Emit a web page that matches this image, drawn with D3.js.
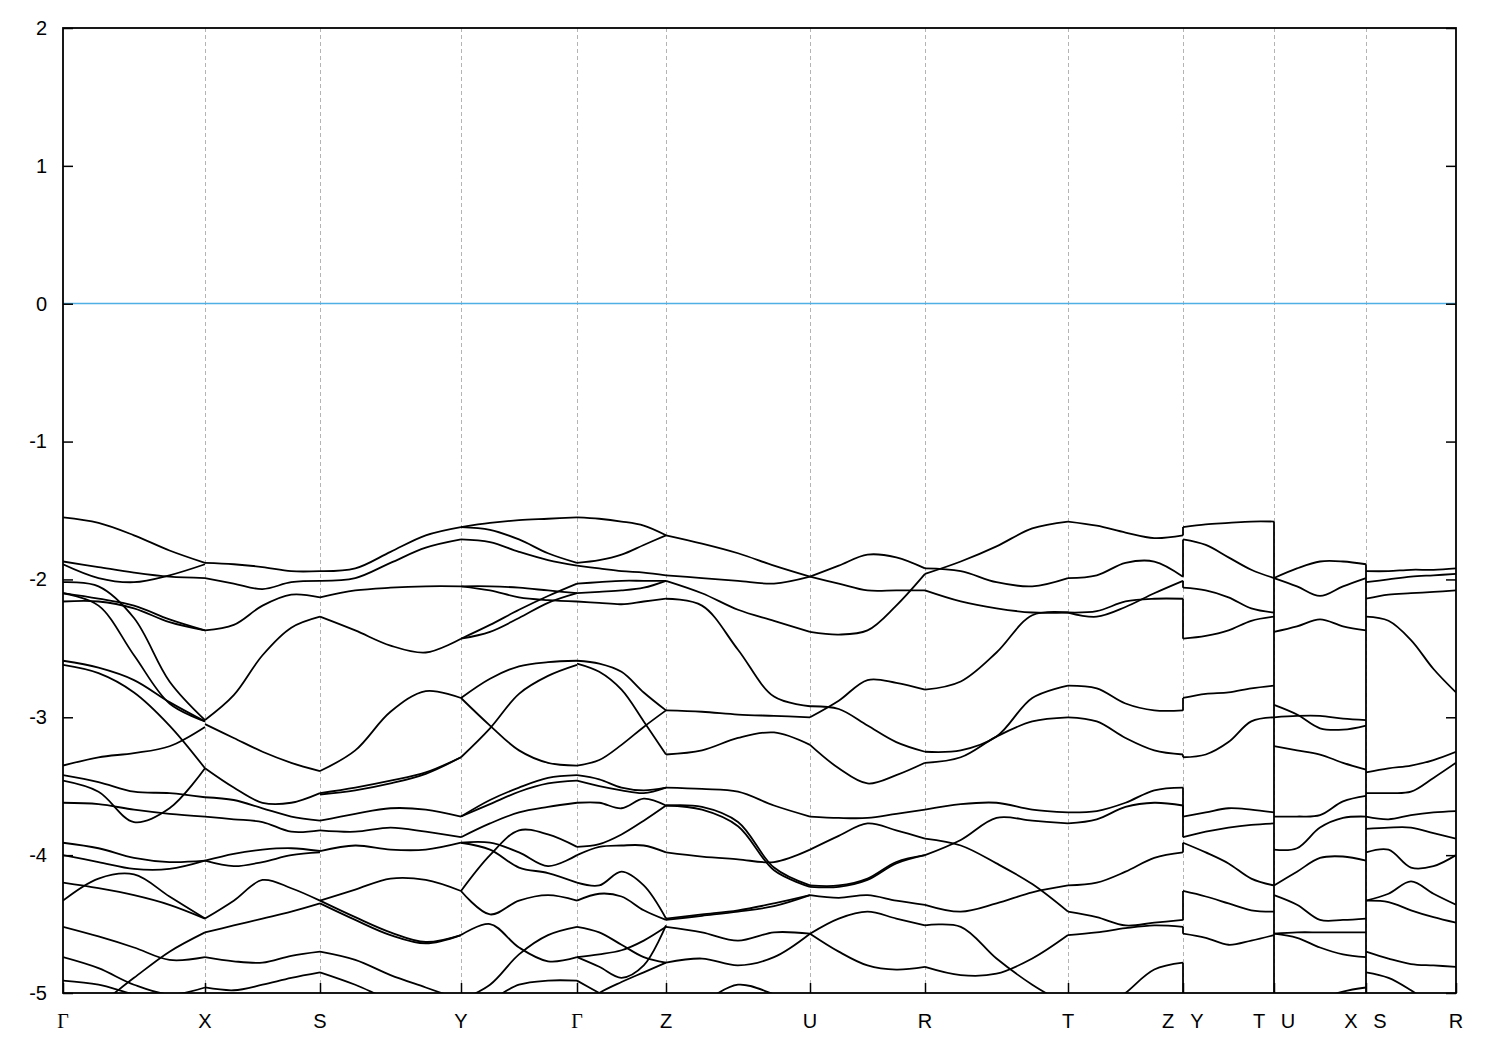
<!DOCTYPE html>
<html><head><meta charset="utf-8">
<script src="https://cdn.jsdelivr.net/npm/d3@7"></script>
<style>body{margin:0;background:#fff}svg{display:block}</style>
</head><body><svg id="c" width="1500" height="1050"></svg>
<script>
// k-path (high-symmetry points), path distance units
const kTicks  = [0, 1.42, 2.57, 3.98, 5.14, 6.03, 7.47, 8.62, 10.05, 11.20, 12.11, 13.03, 13.93];
const kLabels = ["Γ","X","S","Y","Γ","Z","U","R","T","Z|Y","T|U","X|S","R"];
const yTicks  = [2, 1, 0, -1, -2, -3, -4, -5];
const fermi   = 0;

// Band energies (eV), equally spaced along each path segment
const segGX = [
 [-1.55,-1.59,-1.68,-1.79,-1.88],[-1.87,-1.91,-1.95,-1.98,-1.99],[-1.89,-1.99,-2.02,-1.97,-1.89],
 [-2.02,-2.05,-2.28,-2.74,-3.02],[-2.10,-2.19,-2.55,-2.90,-3.03],[-2.10,-2.14,-2.19,-2.29,-2.37],
 [-2.16,-2.16,-2.21,-2.31,-2.37],[-2.59,-2.64,-2.73,-2.89,-3.03],[-2.62,-2.68,-2.82,-3.06,-3.37],
 [-3.35,-3.29,-3.26,-3.21,-3.07],[-3.46,-3.54,-3.76,-3.66,-3.37],[-3.42,-3.47,-3.54,-3.55,-3.58],
 [-3.62,-3.63,-3.67,-3.70,-3.72],[-3.91,-3.95,-4.02,-4.05,-4.04],[-4.00,-4.05,-4.10,-4.10,-4.04],
 [-4.20,-4.24,-4.29,-4.36,-4.46],[-4.33,-4.17,-4.14,-4.30,-4.46],[-4.52,-4.59,-4.67,-4.76,-4.74],
 [-4.74,-4.82,-4.94,-5.01,-4.96],[-5.27,-5.09,-4.89,-4.70,-4.56],[-4.91,-4.94,-5.01,-5.05,-5.01]
];
const segXS = [
 [-1.88,-1.89,-1.91,-1.94,-1.94],[-1.99,-2.03,-2.07,-2.02,-2.01],[-2.37,-2.33,-2.19,-2.11,-2.13],
 [-3.02,-2.84,-2.55,-2.35,-2.27],[-3.05,-3.15,-3.25,-3.33,-3.39],[-3.37,-3.51,-3.62,-3.62,-3.55],
 [-3.58,-3.60,-3.66,-3.72,-3.75],[-3.72,-3.74,-3.76,-3.83,-3.82],[-4.04,-3.99,-3.96,-3.95,-3.97],
 [-4.04,-4.08,-4.05,-4.00,-3.98],[-4.46,-4.33,-4.18,-4.24,-4.33],[-4.56,-4.51,-4.46,-4.41,-4.35],
 [-4.74,-4.77,-4.78,-4.73,-4.70],[-4.96,-4.98,-4.94,-4.89,-4.85]
];
const segSY = [
 [-1.94,-1.92,-1.80,-1.68,-1.62],[-2.01,-1.99,-1.88,-1.77,-1.71],[-2.13,-2.08,-2.06,-2.05,-2.05],
 [-2.27,-2.37,-2.48,-2.53,-2.43],[-3.39,-3.24,-2.96,-2.81,-2.86],[-3.55,-3.51,-3.46,-3.40,-3.29],
 [-3.56,-3.53,-3.48,-3.41,-3.29],[-3.75,-3.70,-3.66,-3.67,-3.72],[-3.82,-3.83,-3.80,-3.83,-3.87],
 [-3.97,-3.93,-3.96,-3.96,-3.91],[-4.33,-4.25,-4.17,-4.18,-4.26],[-4.33,-4.45,-4.56,-4.63,-4.58],
 [-4.35,-4.47,-4.58,-4.64,-4.58],[-4.70,-4.76,-4.87,-4.96,-5.05],[-4.85,-4.94,-5.05,-5.12,-5.16]
];
const segYG = [
 [-1.62,-1.59,-1.57,-1.56,-1.55],[-1.62,-1.64,-1.71,-1.81,-1.88],[-1.71,-1.73,-1.80,-1.86,-1.90],
 [-2.05,-2.05,-2.06,-2.08,-2.10],[-2.05,-2.08,-2.13,-2.15,-2.16],[-2.43,-2.33,-2.22,-2.12,-2.03],
 [-2.43,-2.38,-2.28,-2.17,-2.10],[-2.86,-2.72,-2.63,-2.60,-2.59],[-3.29,-3.08,-2.83,-2.70,-2.62],
 [-2.86,-3.06,-3.24,-3.33,-3.35],[-3.72,-3.60,-3.51,-3.44,-3.42],[-3.87,-3.77,-3.69,-3.65,-3.62],
 [-3.91,-3.91,-3.98,-4.08,-4.00],[-3.91,-3.96,-4.09,-4.13,-4.20],[-4.26,-4.43,-4.33,-4.29,-4.33],
 [-4.26,-4.00,-3.82,-3.85,-3.94],[-4.58,-4.50,-4.67,-4.77,-4.74],[-5.05,-4.94,-4.72,-4.58,-4.52],
 [-5.12,-5.05,-4.94,-4.91,-4.91],[-3.72,-3.63,-3.54,-3.48,-3.46]
];
const segGZ = [
 [-1.55,-1.56,-1.58,-1.61,-1.68],[-1.88,-1.86,-1.82,-1.75,-1.68],[-1.90,-1.92,-1.94,-1.95,-1.97],
 [-2.03,-2.02,-2.01,-2.01,-2.01],[-2.10,-2.09,-2.08,-2.06,-2.01],[-2.16,-2.17,-2.18,-2.16,-2.14],
 [-2.59,-2.61,-2.67,-2.82,-2.95],[-2.61,-2.67,-2.80,-3.03,-3.27],[-3.35,-3.31,-3.20,-3.07,-2.95],
 [-3.42,-3.45,-3.51,-3.53,-3.51],[-3.46,-3.50,-3.53,-3.55,-3.51],[-3.62,-3.62,-3.66,-3.59,-3.64],
 [-3.94,-3.92,-3.85,-3.75,-3.64],[-4.00,-3.94,-3.93,-3.93,-3.98],[-4.20,-4.22,-4.12,-4.22,-4.46],
 [-4.33,-4.28,-4.30,-4.40,-4.47],[-4.52,-4.56,-4.65,-4.74,-4.78],[-4.74,-4.81,-4.89,-4.80,-4.51],
 [-4.74,-4.72,-4.69,-4.62,-4.52],[-5.12,-5.00,-4.92,-4.85,-4.78],[-4.91,-5.00,-5.09,-5.12,-5.12]
];
const segZU = [
 [-1.68,-1.74,-1.81,-1.90,-1.98],[-1.97,-1.99,-2.01,-2.03,-1.98],[-2.01,-2.10,-2.22,-2.30,-2.38],
 [-2.14,-2.19,-2.51,-2.85,-2.92],[-2.95,-2.96,-2.98,-2.99,-3.00],[-3.27,-3.24,-3.15,-3.11,-3.20],
 [-3.51,-3.52,-3.54,-3.64,-3.72],[-3.64,-3.65,-3.76,-4.09,-4.22],[-3.64,-3.67,-3.79,-4.11,-4.23],
 [-3.98,-4.01,-4.03,-4.05,-3.96],[-4.46,-4.43,-4.40,-4.35,-4.29],[-4.47,-4.44,-4.41,-4.37,-4.29],
 [-4.52,-4.56,-4.62,-4.56,-4.57],[-4.78,-4.75,-4.80,-4.74,-4.57],[-5.20,-5.07,-4.94,-5.01,-5.12]
];
const segUR = [
 [-1.98,-1.90,-1.82,-1.84,-1.92],[-1.98,-2.03,-2.08,-2.08,-2.08],[-2.38,-2.40,-2.37,-2.19,-1.96],
 [-2.92,-2.94,-3.06,-3.18,-3.25],[-3.00,-2.88,-2.73,-2.75,-2.80],[-3.20,-3.37,-3.48,-3.42,-3.33],
 [-3.72,-3.73,-3.73,-3.70,-3.67],[-3.96,-3.86,-3.77,-3.82,-3.88],[-4.22,-4.22,-4.17,-4.05,-4.00],
 [-4.23,-4.23,-4.18,-4.06,-4.00],[-4.29,-4.31,-4.29,-4.33,-4.36],[-4.57,-4.46,-4.41,-4.46,-4.51],
 [-4.57,-4.70,-4.80,-4.83,-4.81]
];
const segRT = [
 [-1.92,-1.94,-2.02,-2.05,-1.99],[-1.96,-1.87,-1.76,-1.63,-1.58],[-2.08,-2.16,-2.21,-2.24,-2.24],
 [-2.80,-2.74,-2.53,-2.26,-2.24],[-3.25,-3.24,-3.14,-2.86,-2.77],[-3.33,-3.29,-3.14,-3.03,-3.00],
 [-3.67,-3.63,-3.62,-3.67,-3.69],[-3.88,-3.93,-4.06,-4.21,-4.41],[-4.00,-3.89,-3.73,-3.75,-3.77],
 [-4.36,-4.41,-4.35,-4.27,-4.22],[-4.51,-4.52,-4.75,-4.94,-5.09],[-4.81,-4.87,-4.86,-4.75,-4.58]
];
const segTZ = [
 [-1.58,-1.61,-1.66,-1.70,-1.68],[-1.99,-1.97,-1.88,-1.87,-1.98],[-2.24,-2.27,-2.20,-2.10,-2.01],
 [-2.24,-2.23,-2.16,-2.14,-2.14],[-2.77,-2.79,-2.90,-2.95,-2.95],[-3.00,-3.03,-3.15,-3.24,-3.27],
 [-3.69,-3.68,-3.62,-3.53,-3.51],[-3.77,-3.74,-3.65,-3.62,-3.64],[-4.22,-4.20,-4.12,-4.02,-3.98],
 [-4.41,-4.45,-4.51,-4.49,-4.47],[-4.58,-4.56,-4.53,-4.51,-4.52],[-5.34,-5.16,-5.00,-4.83,-4.78]
];
const segYT = [
 [-1.62,-1.60,-1.59,-1.58,-1.58],[-1.71,-1.75,-1.84,-1.93,-1.99],[-2.06,-2.08,-2.13,-2.21,-2.24],
 [-2.43,-2.41,-2.37,-2.30,-2.27],[-2.86,-2.83,-2.82,-2.79,-2.77],[-3.29,-3.27,-3.18,-3.03,-3.00],
 [-3.72,-3.69,-3.66,-3.67,-3.69],[-3.87,-3.83,-3.80,-3.78,-3.77],[-3.91,-3.98,-4.06,-4.17,-4.22],
 [-4.26,-4.30,-4.35,-4.40,-4.41],[-4.57,-4.60,-4.65,-4.62,-4.58]
];
const segUX = [
 [-1.99,-1.92,-1.87,-1.87,-1.89],[-1.99,-2.05,-2.12,-2.05,-1.99],[-2.38,-2.34,-2.29,-2.34,-2.37],
 [-2.91,-2.98,-3.08,-3.09,-3.06],[-3.00,-2.99,-2.99,-3.01,-3.02],[-3.21,-3.24,-3.27,-3.33,-3.38],
 [-3.72,-3.72,-3.71,-3.61,-3.57],[-3.96,-3.95,-3.80,-3.73,-3.72],[-4.22,-4.12,-4.02,-4.01,-4.04],
 [-4.29,-4.36,-4.47,-4.47,-4.46],[-4.57,-4.56,-4.56,-4.56,-4.56],[-4.57,-4.60,-4.67,-4.72,-4.74],
 [-5.27,-5.16,-5.05,-4.99,-4.96]
];
const segSR = [
 [-1.94,-1.94,-1.93,-1.93,-1.92],[-2.02,-2.00,-1.98,-1.97,-1.96],[-2.14,-2.11,-2.10,-2.09,-2.08],
 [-2.27,-2.30,-2.44,-2.65,-2.82],[-3.40,-3.37,-3.35,-3.31,-3.25],[-3.55,-3.55,-3.54,-3.44,-3.33],
 [-3.72,-3.74,-3.71,-3.69,-3.68],[-3.81,-3.80,-3.80,-3.84,-3.88],[-3.98,-3.96,-4.09,-4.08,-4.00],
 [-4.33,-4.28,-4.19,-4.28,-4.36],[-4.33,-4.34,-4.40,-4.45,-4.49],[-4.70,-4.75,-4.79,-4.80,-4.81],
 [-4.85,-4.89,-4.98,-5.09,-5.16],[-5.34,-5.27,-5.20,-5.09,-5.02]
];
const segments = [segGX, segXS, segSY, segYG, segGZ, segZU, segUR, segRT, segTZ, segYT, segUX, segSR];

// Vertical jumps at path discontinuities (tick index -> [E_before, E_after])
const jumpsZY = [[-1.68,-1.62],[-1.98,-1.71],[-2.01,-2.06],[-2.14,-2.43],[-2.95,-2.86],[-3.27,-3.29],
 [-3.51,-3.72],[-3.64,-3.87],[-3.98,-3.91],[-4.47,-4.26],[-4.52,-4.57],[-4.78,-5.10]];
const jumpsTU = [[-1.58,-5.10]];
const jumpsXS = [[-1.89,-5.10]];
const jumps = [{tick: 9, pairs: jumpsZY}, {tick: 10, pairs: jumpsTU}, {tick: 11, pairs: jumpsXS}];

const M = {left: 63, right: 1456, top: 28, bottom: 993};
const svg = d3.select("#c");
const x = d3.scaleLinear().domain([kTicks[0], kTicks[kTicks.length-1]]).range([M.left, M.right]);
const y = d3.scaleLinear().domain([-5, 2]).range([M.bottom, M.top]);

svg.append("defs").append("clipPath").attr("id","clip")
  .append("rect").attr("x", M.left).attr("y", M.top)
  .attr("width", M.right - M.left).attr("height", M.bottom - M.top);

// grid lines at high-symmetry points
svg.append("g").selectAll("line").data(kTicks.slice(1, -1)).join("line")
  .attr("x1", d => Math.round(x(d)) + 0.5).attr("x2", d => Math.round(x(d)) + 0.5)
  .attr("y1", M.top).attr("y2", M.bottom)
  .attr("stroke", "#b4b4b4").attr("stroke-width", 1).attr("stroke-dasharray", "4,3");

// Fermi level
svg.append("line").attr("x1", M.left).attr("x2", M.right)
  .attr("y1", Math.round(y(fermi)) - 0.5).attr("y2", Math.round(y(fermi)) - 0.5)
  .attr("stroke", "#4fb0e6").attr("stroke-width", 1.3);

// bands
const gB = svg.append("g").attr("clip-path", "url(#clip)")
  .attr("fill", "none").attr("stroke", "#000").attr("stroke-width", 1.8)
  .attr("stroke-linejoin", "round");
const line = d3.line().x(d => x(d[0])).y(d => y(d[1])).curve(d3.curveCatmullRom.alpha(0.5));
segments.forEach((seg, i) => {
  const k0 = kTicks[i], k1 = kTicks[i+1];
  seg.forEach(band => {
    const n = band.length;
    const pts = band.map((e, j) => [k0 + (k1 - k0) * j / (n - 1), e]);
    gB.append("path").attr("d", line(pts));
  });
});
jumps.forEach(jp => {
  jp.pairs.forEach(p => {
    gB.append("line").attr("x1", x(kTicks[jp.tick])).attr("x2", x(kTicks[jp.tick]))
      .attr("y1", y(p[0])).attr("y2", y(p[1]));
  });
});

// axes
const fontF = "'Liberation Sans', Arial, Helvetica, sans-serif";
const gL = svg.append("g").attr("transform", `translate(${M.left},0)`)
  .call(d3.axisLeft(y).tickValues(yTicks).tickSize(-10).tickPadding(16).tickFormat(d => String(d)));
const gR = svg.append("g").attr("transform", `translate(${M.right},0)`)
  .call(d3.axisRight(y).tickValues(yTicks).tickSize(-10).tickFormat(""));
const gBt = svg.append("g").attr("transform", `translate(0,${M.bottom})`)
  .call(d3.axisBottom(x).tickValues(kTicks).tickSize(-10).tickFormat(""));
[gL, gR, gBt].forEach(g => {
  g.select(".domain").remove();
  g.selectAll(".tick line").attr("stroke", "#000").attr("stroke-width", 1.5);
});
gL.selectAll(".tick text").attr("font-family", fontF).attr("font-size", 20).attr("fill", "#000");

// frame
svg.append("rect").attr("x", M.left).attr("y", M.top)
  .attr("width", M.right - M.left).attr("height", M.bottom - M.top)
  .attr("fill", "none").attr("stroke", "#000").attr("stroke-width", 1.8);

// k-point labels
const gLab = svg.append("g").attr("font-size", 20).attr("fill", "#000").attr("text-anchor", "middle");
kLabels.forEach((lab, i) => {
  const parts = lab.split("|");
  const offs = parts.length === 2 ? [-15, 14] : [0];
  parts.forEach((p, j) => {
    gLab.append("text").attr("x", x(kTicks[i]) + offs[j]).attr("y", 1028)
      .attr("font-family", p === "Γ" ? "'Liberation Serif', 'Times New Roman', serif" : fontF)
      .text(p);
  });
});
</script>
</body></html>
